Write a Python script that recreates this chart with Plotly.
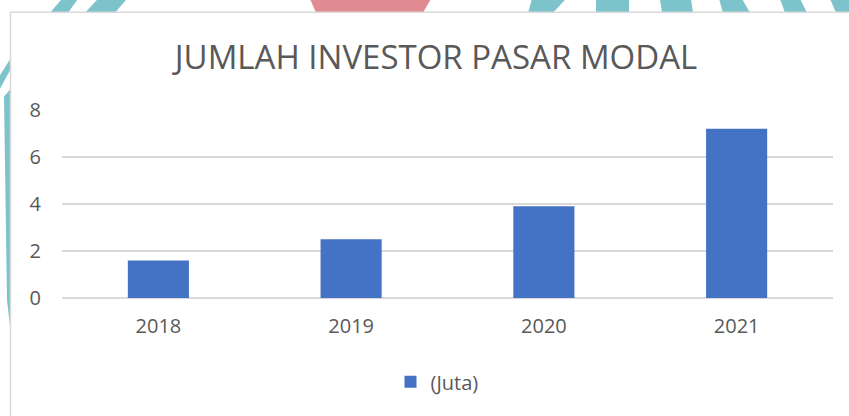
import plotly.graph_objects as go

# data
years = ["2018", "2019", "2020", "2021"]
investors = [1.6, 2.5, 3.9, 7.2]  # juta
series_name = "(Juta)"
chart_title = "JUMLAH INVESTOR PASAR MODAL"
y_ticks = [0, 2, 4, 6, 8]

W, H = 849, 416
L, R, T, B = 62, 16, 109.5, 118
PW = W - L - R
PH = H - T - B

TEAL = "#7dc3cb"
PINK = "#e08a92"
TEXT = "#595959"
GRID = "#d9d9d9"


def px(x):
    """pixel x -> paper x"""
    return (x - L) / PW


def py(y):
    """pixel y -> paper y"""
    return (H - B - y) / PH


def poly(points, color):
    path = "M " + " L ".join(f"{px(x)},{py(y)}" for x, y in points) + " Z"
    return dict(type="path", xref="paper", yref="paper", path=path,
                fillcolor=color, line=dict(width=0), layer="below")


fig = go.Figure()
fig.add_trace(go.Bar(
    x=years, y=investors, name=series_name,
    marker=dict(color="#4472c4", line=dict(width=0)),
    showlegend=True
))

# background decoration peeking around the chart frame
shapes = [
    poly([(62, -2), (78, -2), (68, 12), (50, 12)], TEAL),
    poly([(98, -2), (127, -2), (115, 12), (85, 12)], TEAL),
    poly([(310, -2), (431, -2), (423, 12), (316, 12)], PINK),
    poly([(532, -2), (566, -2), (553, 12), (528, 12)], TEAL),
    poly([(596, -2), (629, -2), (629, 12), (596, 12)], TEAL),
    poly([(660, -2), (691, -2), (693, 12), (662, 12)], TEAL),
    poly([(719, -2), (742, -2), (750, 12), (723, 12)], TEAL),
    poly([(780, -2), (800, -2), (807, 12), (785, 12)], TEAL),
    poly([(830, -2), (852, -2), (852, 12), (836, 12)], TEAL),
    poly([(-2, 78), (11, 57), (11, 68), (-2, 92)], TEAL),
    poly([(4, 96), (11, 88), (11, 335), (7, 300)], TEAL),
    # chart frame
    dict(type="rect", xref="paper", yref="paper",
         x0=px(10.5), x1=px(870), y0=py(440), y1=py(11.5),
         fillcolor="white", line=dict(color=GRID, width=1.5), layer="below"),
]

fig.update_layout(
    width=W, height=H,
    margin=dict(l=L, r=R, t=T, b=B),
    paper_bgcolor="white",
    plot_bgcolor="rgba(0,0,0,0)",
    font=dict(family="Open Sans, Noto Sans, sans-serif", color=TEXT, size=20),
    title=dict(text=chart_title, x=436 / W, xanchor="center",
               y=1 - 57 / H, yanchor="middle",
               font=dict(size=33, color=TEXT)),
    bargap=0.683,
    shapes=shapes,
    xaxis=dict(showgrid=False, showline=False, ticks="",
               ticklabelstandoff=14, tickfont=dict(size=20, color=TEXT)),
    yaxis=dict(range=[0, 8], tickvals=y_ticks, showgrid=True,
               gridcolor=GRID, gridwidth=1.5, zeroline=True,
               zerolinecolor=GRID, zerolinewidth=1.5, showline=False,
               ticks="", ticklabelstandoff=20,
               tickfont=dict(size=20, color=TEXT)),
    legend=dict(orientation="h", x=px(437), xanchor="center",
                y=py(382), yanchor="middle", itemwidth=30,
                font=dict(size=20, color=TEXT), bgcolor="rgba(0,0,0,0)"),
)

fig.write_html("out.html", config={"displayModeBar": False},
               post_script="document.body.style.margin='0';")
